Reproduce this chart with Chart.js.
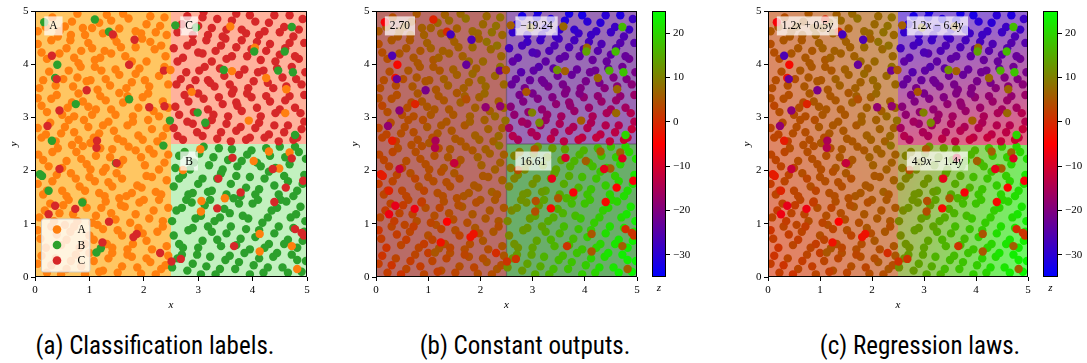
<!DOCTYPE html>
<html><head><meta charset="utf-8">
<script src="https://cdn.jsdelivr.net/npm/chart.js@4.4.0/dist/chart.umd.min.js"></script>
<style>
html,body{margin:0;padding:0;background:#fff}
body{width:1087px;height:363px;position:relative;overflow:hidden}
canvas{position:absolute;top:0}
.cap{position:absolute;top:331px;font-family:"Liberation Sans Narrow","Roboto Condensed","Liberation Sans",sans-serif;font-size:25px;line-height:30px;white-space:nowrap;transform:translateX(-50%);color:#000}
</style></head>
<body>
<canvas id="pa" width="320" height="315" style="left:0px"></canvas>
<canvas id="pb" width="309" height="315" style="left:341px"></canvas>
<canvas id="cbb" width="45" height="315" style="left:650px"></canvas>
<canvas id="pc" width="308" height="315" style="left:733px"></canvas>
<canvas id="cbc" width="46" height="315" style="left:1041px"></canvas>
<div class="cap" style="left:155px">(a) Classification labels.</div>
<div class="cap" style="left:525px">(b) Constant outputs.</div>
<div class="cap" style="left:920px">(c) Regression laws.</div>
<script>
// ---------------- data ----------------
const xTicks = [0, 1, 2, 3, 4, 5];
const yTicks = [0, 1, 2, 3, 4, 5];
const zTicks = [-30, -20, -10, 0, 10, 20];
const zRange = [-35, 25];
const splitX = 2.5, splitY = 2.5;
// regions: 0 = A (left), 1 = B (bottom right), 2 = C (top right)
const classNames = ['A', 'B', 'C'];
const regionConstants = [2.70, 16.61, -19.24];
const lawCoefX = [1.2, 4.9, 1.2];
const lawCoefY = [0.5, -1.4, -6.4];

const regionA_x = [0.05,0.32,0.55,0.78,0.92,1.18,1.32,1.55,1.72,1.95,2.12,2.30,0.42,1.45,2.42,0.68,
 0.12,0.30,0.58,0.72,0.98,1.10,1.28,1.50,1.66,1.85,2.05,2.20,2.40,0.85,1.97,
 0.08,0.26,0.52,0.70,0.84,1.02,1.22,1.38,1.55,1.78,1.92,2.10,2.28,2.45,1.15,
 0.05,0.22,0.40,0.60,0.88,1.05,1.20,1.40,1.62,1.80,1.98,2.18,2.35,0.72,1.55,
 0.12,0.28,0.48,0.62,0.80,0.98,1.18,1.35,1.52,1.70,1.90,2.08,2.25,2.42,1.02,
 0.06,0.25,0.42,0.58,0.76,0.95,1.12,1.30,1.42,1.62,1.85,2.02,2.18,2.38,0.88,
 0.15,0.32,0.50,0.66,0.82,1.00,1.18,1.35,1.50,1.68,1.88,2.05,2.22,2.42,1.25,
 0.08,0.28,0.45,0.62,0.78,0.95,1.12,1.30,1.48,1.65,1.85,2.00,2.18,2.35,1.55,
 0.10,0.30,0.48,0.65,0.82,1.00,1.15,1.32,1.52,1.70,1.90,2.05,2.25,2.42,0.55,
 0.05,0.22,0.38,0.58,0.75,0.92,1.08,1.25,1.42,1.60,1.78,1.95,2.12,2.32,2.45,
 0.20,0.45,0.66,1.05,1.25,1.40,1.62,1.85,2.05,2.22,2.38,0.88,
 0.05,0.22,0.45,0.65,0.80,1.05,1.20,1.40,1.58,1.78,2.12,2.32,
 0.15,0.38,0.62,0.78,0.95,1.10,1.30,1.48,1.68,1.85,2.02,2.38,
 0.12,0.30,0.50,0.68,0.80,0.98,1.12,1.30,1.48,1.70,1.90,2.08,2.28,2.45,
 0.05,0.20,0.38,0.55,0.72,0.90,1.08,1.25,1.45,1.62,1.80,1.98,2.15,2.35,
 0.15,0.32,0.50,0.68,0.85,1.02,1.20,1.38,1.55,1.72,1.95,2.10,2.28,2.45,
 0.05,0.22,0.40,0.58,0.75,0.92,1.10,1.28,1.42,1.60,1.78,1.96,2.15,2.32,
 0.18,0.35,0.52,0.70,0.88,1.05,1.22,1.40,1.58,1.75,1.92,2.10,2.28,2.45,
 0.05,0.20,0.40,0.58,0.72,0.92,1.08,1.25,1.42,1.60,1.80,1.98,2.15,2.35,
 0.12,0.30,0.48,0.66,0.85,1.00,1.18,1.35,1.52,1.70,1.88,2.05,2.22,2.40];
const regionA_y = [4.62,4.88,4.71,4.95,4.55,4.78,4.93,4.67,4.86,4.58,4.90,4.72,4.52,4.52,4.55,4.80,
 4.22,4.45,4.30,4.12,4.40,4.08,4.25,4.42,4.15,4.32,4.05,4.28,4.15,4.25,4.48,
 3.55,3.86,3.72,3.58,3.95,3.70,3.88,3.60,3.80,3.66,3.92,3.58,3.78,3.62,3.52,
 3.36,3.10,3.42,3.18,3.30,3.05,3.40,3.15,3.28,3.02,3.38,3.12,3.30,3.02,3.46,
 2.62,2.90,2.70,2.95,2.58,2.82,2.70,2.92,2.60,2.85,2.66,2.95,2.55,2.80,2.52,
 2.30,2.08,2.42,2.18,2.35,2.12,2.28,2.05,2.40,2.20,2.38,2.10,2.32,2.15,2.46,
 1.55,1.80,1.62,1.95,1.70,1.88,1.58,1.78,1.95,1.52,1.72,1.90,1.60,1.82,1.98,
 1.12,1.38,1.20,1.45,1.05,1.30,1.15,1.42,1.08,1.32,1.18,1.45,1.25,1.05,1.48,
 0.72,0.95,0.60,0.85,0.55,0.78,0.98,0.62,0.88,0.52,0.92,0.68,0.85,0.58,0.98,
 0.25,0.08,0.35,0.15,0.42,0.05,0.30,0.12,0.45,0.20,0.38,0.06,0.28,0.15,0.40,
 4.70,4.62,4.55,4.68,4.58,4.82,4.95,4.62,4.75,4.60,4.88,4.68,
 4.38,4.10,4.20,4.45,4.02,4.30,4.12,4.20,4.32,4.05,4.42,4.35,
 3.70,3.60,3.88,3.75,3.68,3.95,3.72,3.90,3.55,3.82,3.70,3.95,
 3.22,3.35,3.05,3.28,3.45,3.20,3.15,3.32,3.05,3.40,3.18,3.45,3.02,3.18,
 2.80,2.68,2.55,2.82,2.72,2.95,2.62,2.85,2.75,2.55,2.92,2.58,2.78,2.65,
 2.20,2.35,2.05,2.48,2.22,2.02,2.42,2.25,2.12,2.45,2.25,2.40,2.02,2.30,
 1.75,1.62,1.92,1.52,1.85,1.62,1.80,1.52,1.70,1.85,1.58,1.68,1.88,1.55,
 1.25,1.05,1.35,1.18,1.42,1.02,1.30,1.20,1.35,1.02,1.40,1.10,1.45,1.30,
 0.88,0.55,0.80,0.70,0.95,0.62,0.70,0.90,0.55,0.78,0.62,0.82,0.52,0.95,
 0.40,0.22,0.05,0.30,0.20,0.45,0.10,0.35,0.08,0.42,0.18,0.35,0.05,0.22];
const regionA_z = [5,4,6,5,6,7,6,6,8,7,7,8,5,6,7,5,
 4,5,5,5,6,5,6,6,6,7,7,7,7,5,6,
 4,4,4,5,5,5,5,6,6,6,6,7,7,7,5,
 4,4,4,4,5,5,5,5,6,6,6,6,6,4,5,
 3,4,4,4,4,5,5,5,5,5,6,6,6,6,5,
 3,3,4,4,4,4,4,5,5,5,5,6,6,6,4,
 3,3,3,4,4,4,4,4,5,5,5,5,6,6,4,
 3,3,3,3,4,4,4,4,4,5,5,5,5,5,4,
 2,3,3,3,3,4,4,4,4,4,5,5,5,5,3,
 2,2,3,3,3,3,3,4,4,4,4,4,5,5,5,
 5,5,5,6,6,7,7,7,7,8,8,6,
 4,4,5,5,5,6,6,6,6,7,8,8,
 4,4,5,5,5,5,6,6,6,7,7,8,
 3,4,4,4,5,5,5,5,5,6,6,7,7,7,
 3,3,3,4,4,4,4,5,5,5,6,6,6,7,
 3,3,3,4,4,4,4,5,5,5,6,6,6,6,
 2,2,3,3,3,3,4,4,4,4,5,5,5,5,
 2,2,2,3,3,3,3,4,4,4,4,5,5,5,
 1,1,2,2,2,2,3,3,3,3,4,4,4,4,
 1,1,1,2,2,2,2,3,3,3,3,4,4,4];

const regionB_x = [2.58,2.75,2.92,3.10,3.28,3.45,3.62,3.80,3.98,4.15,4.32,4.50,4.68,4.85,4.98,
 2.55,2.72,2.90,3.08,3.25,3.42,3.60,3.78,3.95,4.12,4.30,4.48,4.65,4.82,4.95,
 2.60,2.78,2.95,3.12,3.30,3.48,3.65,3.82,4.00,4.18,4.35,4.52,4.70,4.88,4.97,
 2.55,2.72,2.90,3.08,3.25,3.42,3.60,3.78,3.95,4.12,4.30,4.48,4.65,4.82,4.95,
 2.62,2.80,2.98,3.15,3.32,3.50,3.68,3.85,4.02,4.20,4.38,4.55,4.72,4.90,4.98,
 2.65,2.85,3.02,3.20,3.38,3.55,3.72,3.90,4.08,4.25,4.42,4.60,4.78,
 2.65,2.82,3.00,3.18,3.35,3.52,3.70,3.88,4.05,4.22,4.40,4.58,4.75,4.92,
 2.52,2.70,2.88,3.05,3.22,3.40,3.58,3.75,3.92,4.10,4.28,4.45,4.62,4.80,
 2.65,2.82,3.00,3.18,3.35,3.52,3.70,3.88,4.05,4.22,4.40,4.58,4.75,4.92,
 2.52,2.70,2.90,3.05,3.22,3.40,3.58,3.75,3.95,4.12,4.28,4.45,4.65,4.82];
const regionB_y = [2.05,2.35,2.15,2.45,2.25,2.02,2.40,2.18,2.38,2.08,2.28,2.45,2.12,2.35,2.22,
 1.70,1.92,1.58,1.85,1.62,1.95,1.75,1.52,1.88,1.65,1.98,1.55,1.80,1.62,1.92,
 1.25,1.45,1.10,1.35,1.05,1.28,1.48,1.15,1.38,1.02,1.25,1.45,1.12,1.32,1.05,
 0.78,0.55,0.92,0.68,0.85,0.58,0.95,0.72,0.52,0.88,0.62,0.95,0.70,0.55,0.85,
 0.35,0.12,0.42,0.20,0.05,0.32,0.15,0.45,0.22,0.08,0.38,0.18,0.42,0.10,0.30,
 2.28,2.02,2.32,2.10,2.42,2.20,2.08,2.30,2.15,2.42,2.05,2.25,2.45,
 1.85,1.55,1.75,1.60,1.85,1.55,1.90,1.68,1.55,1.85,1.72,1.90,1.52,1.75,
 1.05,1.30,1.40,1.15,1.45,1.12,1.20,1.38,1.10,1.45,1.12,1.30,1.42,1.18,
 0.62,0.88,0.55,0.95,0.70,0.82,0.60,0.90,0.75,0.55,0.82,0.62,0.92,0.68,
 0.18,0.42,0.25,0.05,0.38,0.15,0.40,0.28,0.05,0.35,0.18,0.45,0.08,0.32];
const regionB_z = [9,10,11,12,13,14,14,16,16,17,18,18,20,20,21,
 10,11,12,12,14,14,15,16,17,18,18,20,20,21,22,
 11,12,13,13,15,15,16,17,18,19,19,20,21,22,23,
 11,12,13,14,15,16,17,17,18,19,20,21,22,23,23,
 12,13,14,15,16,17,18,18,19,20,21,22,23,24,24,
 10,11,12,13,13,14,16,16,17,17,19,19,20,
 10,12,12,13,14,15,15,16,18,18,19,19,21,21,
 11,12,12,14,14,15,16,17,18,18,19,20,20,22,
 12,13,14,14,16,16,17,18,19,20,21,22,22,23,
 12,13,14,15,16,17,17,18,19,20,21,22,23,23];

const regionC_x = [2.62,2.80,3.00,3.18,3.35,3.52,3.70,3.88,4.05,4.22,4.40,4.58,4.75,4.92,3.10,
 2.55,2.72,2.90,3.08,3.25,3.42,3.62,3.80,3.98,4.15,4.32,4.50,4.68,4.85,3.50,
 2.60,2.78,2.95,3.12,3.30,3.48,3.65,3.85,4.02,4.20,4.38,4.55,4.72,4.90,3.18,
 2.58,2.75,2.92,3.10,3.28,3.45,3.62,3.80,3.98,4.15,4.32,4.50,4.68,4.88,3.70,
 2.55,2.72,2.90,3.08,3.25,3.42,3.60,3.78,3.95,4.12,4.30,4.48,4.65,4.82,4.95,
 2.70,2.90,3.08,3.25,3.45,3.62,3.80,3.95,4.12,4.30,4.50,4.68,4.85,
 2.62,2.80,3.00,3.15,3.32,3.52,3.70,3.90,4.08,4.25,4.42,4.60,4.78,4.95,
 2.68,2.85,3.02,3.22,3.40,3.58,3.75,3.92,4.10,4.28,4.45,4.62,4.80,4.97,
 2.65,2.82,3.00,3.18,3.38,3.55,3.72,3.90,4.08,4.25,4.42,4.60,4.78,4.95,
 2.62,2.80,2.98,3.15,3.35,3.52,3.70,3.88,4.05,4.22,4.40,4.58,4.75,4.90];
const regionC_y = [4.60,4.90,4.72,4.55,4.85,4.65,4.95,4.58,4.80,4.62,4.92,4.70,4.52,4.85,4.98,
 4.30,4.12,4.42,4.20,4.05,4.35,4.15,4.45,4.28,4.08,4.38,4.18,4.40,4.10,4.48,
 3.62,3.85,3.70,3.95,3.58,3.78,3.52,3.90,3.68,3.88,3.55,3.75,3.95,3.62,3.70,
 3.20,3.42,3.10,3.35,3.05,3.25,3.45,3.12,3.38,3.02,3.30,3.15,3.40,3.08,3.28,
 2.80,2.58,2.88,2.65,2.95,2.72,2.55,2.82,2.62,2.90,2.68,2.55,2.85,2.62,2.92,
 4.75,4.55,4.88,4.68,4.52,4.82,4.65,4.92,4.55,4.78,4.60,4.92,4.65,
 4.05,4.35,4.22,4.45,4.25,4.10,4.32,4.15,4.42,4.25,4.05,4.30,4.15,4.40,
 3.72,3.55,3.88,3.65,3.92,3.62,3.80,3.55,3.85,3.65,3.92,3.58,3.72,3.85,
 3.05,3.30,3.45,3.15,3.38,3.02,3.22,3.45,3.18,3.40,3.08,3.32,3.18,3.42,
 2.65,2.92,2.72,2.85,2.60,2.88,2.75,2.58,2.80,2.62,2.85,2.72,2.58,2.78];
const regionC_z = [-29,-32,-30,-28,-31,-29,-32,-28,-30,-28,-30,-28,-26,-28,-32,
 -27,-25,-28,-25,-24,-26,-24,-27,-25,-23,-26,-24,-25,-22,-27,
 -23,-25,-23,-25,-21,-22,-20,-23,-21,-22,-19,-20,-22,-19,-22,
 -19,-21,-18,-20,-17,-18,-20,-17,-18,-15,-17,-16,-18,-14,-18,
 -16,-15,-17,-15,-17,-15,-13,-15,-13,-15,-13,-12,-14,-12,-14,
 -30,-28,-31,-29,-28,-31,-29,-32,-28,-30,-28,-31,-28,
 -24,-27,-26,-28,-26,-24,-26,-24,-27,-25,-23,-25,-23,-25,
 -23,-21,-24,-22,-24,-21,-23,-20,-22,-21,-23,-19,-20,-21,
 -18,-20,-21,-18,-20,-16,-18,-20,-17,-18,-15,-17,-16,-17,
 -14,-16,-15,-16,-13,-15,-14,-12,-14,-12,-14,-13,-11,-12];

// points whose label differs from the region they lie in (drawn on top)
const outX = [0.17,1.10,1.36,0.41,0.37,0.75,1.73,0.31,0.09,0.13,0.25,0.87,1.21,1.13,2.48,2.36,1.49,
 0.31,1.43,1.83,1.73,0.40,0.95,0.45,2.10,2.38,0.23,1.14,1.13,1.50,0.45,0.37,0.74,0.25,1.36,1.87,1.81,1.24,2.30,2.51,2.37,
 3.59,4.04,3.62,4.25,4.62,2.88,4.60,3.93,2.49,
 2.58,2.96,4.03,4.59,4.47,4.74,3.47,2.99,3.13,4.78,4.72,
 3.04,4.30,4.68,4.02,4.49,2.72,3.06,3.49,3.05,4.13,4.13,4.72,4.82,
 4.72,3.63,4.37,3.37,4.93,4.61,3.78,4.40,3.35,4.78,4.90,4.94,3.66,2.68];
const outY = [4.79,4.84,4.61,3.99,3.74,3.25,3.34,2.56,1.93,1.90,1.62,1.40,0.54,0.46,2.94,2.47,2.14,
 4.16,4.56,4.46,3.99,3.72,3.51,3.13,3.19,3.21,2.84,2.56,2.43,2.14,2.03,1.34,1.28,1.18,1.04,0.81,0.75,0.65,0.45,0.29,3.88,
 4.71,4.31,3.87,3.74,3.53,3.48,3.08,2.94,3.89,
 4.73,4.69,4.24,4.24,3.88,3.85,3.89,3.09,2.90,2.67,4.70,
 2.40,2.36,2.34,2.18,2.04,2.01,1.43,1.48,1.23,0.81,0.48,0.58,0.15,
 2.23,2.24,2.03,1.85,1.81,1.68,1.59,1.41,1.29,0.90,0.83,0.78,0.58,0.34];
const outCls = [1,1,1,1,1,1,1,1,1,1,1,1,1,1,1,1,1,
 2,2,2,2,2,2,2,2,2,2,2,2,2,2,2,2,2,2,2,2,2,2,2,2,
 0,0,0,0,0,0,0,0,0,
 1,1,1,1,1,1,1,1,1,1,1,
 0,0,0,0,0,0,0,0,0,0,0,0,0,
 2,2,2,2,2,2,2,2,2,2,2,2,2,2];
const outZ = [-6,-1,0,-4,-3,-1,4,-2,-2,-2,-1,2,5,5,8,8,4,
 -26,-27,-26,-23,-23,-21,-19,-18,-18,-18,-15,-14,-12,-12,-8,-7,-7,-5,-3,-3,-3,0,1,-22,
 7,7,6,7,7,5,7,6,5,
 6,8,14,17,16,18,12,10,11,20,17,
 5,6,7,6,6,4,4,5,4,5,5,6,6,
 -9,-10,-8,-8,-6,-5,-6,-4,-4,0,1,1,1,1];

// ---------------- helpers ----------------
const SERIF = '"Liberation Serif","DejaVu Serif",serif';
Chart.defaults.color = '#000';
Chart.defaults.font.family = SERIF;
Chart.defaults.font.size = 11;

const pts = [], cls = [], zs = [];
function pushSet(xa, ya, za, c){ for(let i=0;i<xa.length;i++){ pts.push({x:xa[i], y:ya[i]}); zs.push(za[i]); cls.push(Array.isArray(c)?c[i]:c); } }
pushSet(regionA_x, regionA_y, regionA_z, 0);
pushSet(regionB_x, regionB_y, regionB_z, 1);
pushSet(regionC_x, regionC_y, regionC_z, 2);
pushSet(outX, outY, outZ, outCls);

function cmapRGB(z){
  let s = (z - zRange[0]) / (zRange[1] - zRange[0]);
  s = Math.max(0, Math.min(1, s));
  if (s < 0.5){ const u = s/0.5; return [255*u, 0, 255*(1-u)]; }
  const u = (s-0.5)/0.5; return [255*(1-u), 255*u, 0];
}
function cmap(z, a){ const c = cmapRGB(z); const al = a===undefined?1:a;
  return 'rgb(' + c.map(v => Math.round(v*al + 255*(1-al))).join(',') + ')'; }
function regionOf(x, y){ return x < splitX ? 0 : (y < splitY ? 1 : 2); }
function minusFix(s){ return String(s).replace('-', '\u2212'); }
function regionBounds(){ return [[0, splitX, 0, 5], [splitX, 5, 0, splitY], [splitX, 5, splitY, 5]]; }

const regionBgPlugin = {
  id: 'regionBg',
  beforeDatasetsDraw(chart, args, o){
    if (!o || !o.mode) return;
    const {ctx, chartArea: ca, scales: {x: sx, y: sy}} = chart;
    ctx.save();
    ctx.beginPath(); ctx.rect(ca.left, ca.top, ca.width, ca.height); ctx.clip();
    if (o.mode === 'law'){
      const st = 2;
      for (let px = Math.floor(ca.left); px < ca.right; px += st){
        for (let py = Math.floor(ca.top); py < ca.bottom; py += st){
          const xv = sx.getValueForPixel(px + st/2), yv = sy.getValueForPixel(py + st/2);
          const r = regionOf(xv, yv);
          ctx.fillStyle = cmap(lawCoefX[r]*xv + lawCoefY[r]*yv, o.alpha);
          ctx.fillRect(px, py, st, st);
        }
      }
    } else {
      regionBounds().forEach((b, r) => {
        const X0 = sx.getPixelForValue(b[0]), X1 = sx.getPixelForValue(b[1]);
        const Y0 = sy.getPixelForValue(b[3]), Y1 = sy.getPixelForValue(b[2]);
        ctx.fillStyle = o.colors[r];
        ctx.fillRect(X0, Y0, X1 - X0, Y1 - Y0);
      });
      if (o.edge){
        ctx.strokeStyle = o.edge; ctx.lineWidth = 1.2;
        const xs = sx.getPixelForValue(splitX), ys = sy.getPixelForValue(splitY);
        ctx.beginPath(); ctx.moveTo(xs, ca.top); ctx.lineTo(xs, ca.bottom);
        ctx.moveTo(xs, ys); ctx.lineTo(ca.right, ys); ctx.stroke();
      }
    }
    ctx.restore();
  }
};

function drawRich(ctx, parts, x, y, size, draw){
  let cx = x;
  for (const [t, it] of parts){
    ctx.font = (it ? 'italic ' : '') + size + 'px ' + SERIF;
    if (draw) ctx.fillText(t, cx, y);
    cx += ctx.measureText(t).width;
  }
  return cx - x;
}

const overlayPlugin = {
  id: 'overlay',
  afterDatasetsDraw(chart, args, o){
    const {ctx, chartArea: ca, scales: {x: sx, y: sy}} = chart;
    ctx.save();
    if (o.labels){
      o.labels.forEach(l => {
        const px = sx.getPixelForValue(l.x), py = sy.getPixelForValue(l.y);
        ctx.textBaseline = 'middle'; ctx.textAlign = 'left';
        const w = drawRich(ctx, l.parts, 0, 0, 11.5, false);
        const pad = 5, h = 19;
        ctx.fillStyle = 'rgba(255,255,255,0.72)';
        ctx.fillRect(px, py - h/2, w + 2*pad, h);
        ctx.fillStyle = '#000';
        drawRich(ctx, l.parts, px + pad, py + 0.5, 11.5, true);
      });
    }
    if (o.legend){
      const L = o.legend;
      const bx = ca.left + 6.5, by = ca.bottom - 58, bw = 48.5, bh = 53;
      ctx.fillStyle = 'rgba(255,255,255,0.8)';
      ctx.strokeStyle = 'rgba(204,204,204,0.9)'; ctx.lineWidth = 1;
      ctx.beginPath(); ctx.roundRect(bx, by, bw, bh, 2); ctx.fill(); ctx.stroke();
      L.names.forEach((n, i) => {
        const yy = by + 10.5 + i*15.5;
        ctx.fillStyle = L.colors[i];
        ctx.beginPath(); ctx.arc(bx + 15.5, yy, 4.3, 0, Math.PI*2); ctx.fill();
        ctx.fillStyle = '#000'; ctx.font = '11.5px ' + SERIF; ctx.textBaseline = 'middle'; ctx.textAlign = 'left';
        ctx.fillText(n, bx + 36, yy + 0.5);
      });
    }
    ctx.strokeStyle = '#000'; ctx.lineWidth = 1;
    ctx.strokeRect(Math.round(ca.left) + 0.5, Math.round(ca.top) + 0.5, Math.round(ca.width) - 1, Math.round(ca.height) - 1);
    ctx.restore();
  }
};

function axisScale(ticksArr, title, isX, yTitlePad){
  return {
    type: 'linear', min: 0, max: 5,
    afterBuildTicks: s => { s.ticks = ticksArr.map(v => ({value: v})); },
    grid: {display: true, drawOnChartArea: false, drawTicks: true, tickLength: 4, color: '#000', lineWidth: 1},
    border: {display: false},
    ticks: {padding: isX ? 3 : 2.5, font: {family: SERIF, size: 11}, color: '#000', maxRotation: 0},
    title: {display: true, text: title, color: '#000', font: {family: SERIF, size: 11, style: 'italic'},
            padding: isX ? {top: 0, bottom: 3.4} : {top: yTitlePad, bottom: 0}},
    afterFit: s => { if (isX) s.height = 38; else s.width = 35; }
  };
}

function mainChart(id, colors, bg, labels, legend){
  return new Chart(document.getElementById(id), {
    type: 'scatter',
    data: {datasets: [{
      data: pts,
      pointBackgroundColor: colors,
      pointBorderWidth: 0, pointBorderColor: 'rgba(0,0,0,0)',
      pointRadius: 4.2, pointHoverRadius: 4.2, showLine: false
    }]},
    options: {
      responsive: false, animation: false, devicePixelRatio: 1,
      layout: {padding: {left: 0, top: 11, right: 13, bottom: 0}},
      scales: {x: axisScale(xTicks, 'x', true), y: axisScale(yTicks, 'y', false, 7.6)},
      plugins: {legend: {display: false}, tooltip: {enabled: false},
                regionBg: bg, overlay: {labels: labels, legend: legend}},
      events: []
    },
    plugins: [regionBgPlugin, overlayPlugin]
  });
}

const colorbarPlugin = {
  id: 'cbar',
  beforeDatasetsDraw(chart){
    const {ctx, chartArea: ca, scales: {y: sy}} = chart;
    const g = ctx.createLinearGradient(0, sy.getPixelForValue(zRange[0]), 0, sy.getPixelForValue(zRange[1]));
    g.addColorStop(0, cmap(zRange[0])); g.addColorStop(0.5, cmap((zRange[0]+zRange[1])/2)); g.addColorStop(1, cmap(zRange[1]));
    ctx.save(); ctx.fillStyle = g; ctx.fillRect(ca.left, ca.top, ca.width, ca.height);
    ctx.strokeStyle = '#000'; ctx.lineWidth = 1;
    ctx.strokeRect(Math.round(ca.left) + 0.5, Math.round(ca.top) + 0.5, Math.round(ca.width) - 1, Math.round(ca.height) - 1);
    ctx.restore();
  }
};
function colorbar(id){
  return new Chart(document.getElementById(id), {
    type: 'scatter', data: {datasets: []},
    options: {
      responsive: false, animation: false, devicePixelRatio: 1, events: [],
      layout: {padding: {left: 2, top: 11, right: 0, bottom: 0}},
      scales: {
        x: {type: 'linear', min: 0, max: 1, grid: {display: false}, border: {display: false}, ticks: {display: false},
            title: {display: true, text: 'z', color: '#000', font: {family: SERIF, size: 11, style: 'italic'}, padding: {top: 0, bottom: 20.4}},
            afterFit: s => { s.height = 38; }},
        y: {type: 'linear', position: 'right', min: zRange[0], max: zRange[1],
            afterBuildTicks: s => { s.ticks = zTicks.map(v => ({value: v})); },
            grid: {display: true, drawOnChartArea: false, drawTicks: true, tickLength: 4, color: '#000'},
            border: {display: false},
            ticks: {padding: 3, color: '#000', font: {family: SERIF, size: 11}, callback: v => minusFix(v)},
            afterFit: s => { s.width = 29; }}
      },
      plugins: {legend: {display: false}, tooltip: {enabled: false}}
    },
    plugins: [colorbarPlugin]
  });
}

const labelAnchors = [[0.17, 4.72], [2.67, 2.18], [2.67, 4.72]];
function mkLabels(partsFn){ return labelAnchors.map((p, r) => ({x: p[0], y: p[1], parts: partsFn(r)})); }

const classColors = ['#ff7f0e', '#2ca02c', '#d62728'];

mainChart('pa', cls.map(c => classColors[c]),
  {mode: 'const', colors: ['#ffc662', '#c2f1bf', '#ffb29c']},
  mkLabels(r => [[classNames[r], false]]),
  {names: classNames, colors: classColors});

mainChart('pb', zs.map(z => cmap(z)),
  {mode: 'const', colors: ['#b96c67', '#6aae6a', '#9a6bb6'], edge: 'rgba(70,50,70,0.55)'},
  mkLabels(r => [[minusFix(regionConstants[r].toFixed(2)), false]]),
  null);
colorbar('cbb');

function lawParts(r){
  const b = lawCoefY[r];
  return [[lawCoefX[r].toFixed(1), false], ['x', true], [b < 0 ? ' \u2212 ' : ' + ', false], [Math.abs(b).toFixed(1), false], ['y', true]];
}
mainChart('pc', zs.map(z => cmap(z)),
  {mode: 'law', alpha: 0.6},
  mkLabels(lawParts),
  null);
colorbar('cbc');
</script>
</body></html>
